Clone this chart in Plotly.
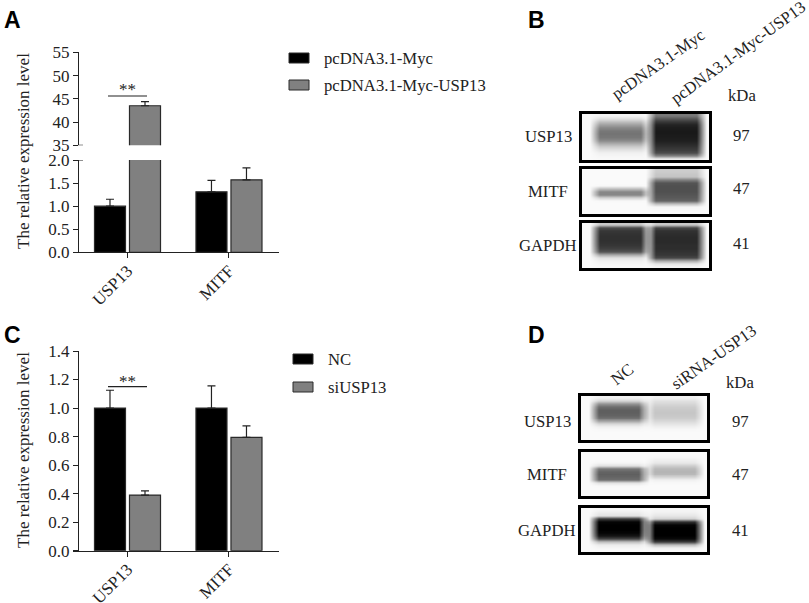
import plotly.graph_objects as go

W, H = 809, 603
SERIF = "Liberation Serif"
SANS = "Liberation Sans"
INK = "#222222"
GRAY = "#808080"

categories = ["USP13", "MITF"]

a_names = ["pcDNA3.1-Myc", "pcDNA3.1-Myc-USP13"]
a_ctrl = [1.0, 1.31]
a_ctrl_err = [0.15, 0.25]
a_treat = [43.5, 1.57]
a_treat_err = [0.9, 0.26]
a_low_ticks = [0.0, 0.5, 1.0, 1.5, 2.0]
a_high_ticks = [35, 40, 45, 50, 55]

c_names = ["NC", "siUSP13"]
c_ctrl = [1.0, 1.0]
c_ctrl_err = [0.125, 0.155]
c_treat = [0.39, 0.795]
c_treat_err = [0.03, 0.08]
c_ticks = [0.0, 0.2, 0.4, 0.6, 0.8, 1.0, 1.2, 1.4]

# Capillary blot lanes: grey level from top to bottom of each box
b_usp13 = ([245, 225, 190, 160, 135, 120, 115, 120, 140, 175, 205, 225, 240, 245, 248],
           [120, 85, 55, 35, 28, 25, 25, 28, 32, 40, 50, 60, 75, 130, 235])
b_mitf = ([250, 250, 250, 250, 250, 248, 190, 135, 135, 210, 248, 250, 250, 250, 250],
          [205, 200, 195, 130, 85, 80, 80, 80, 85, 90, 100, 190, 245, 248, 250])
b_gapdh = ([200, 75, 55, 50, 48, 48, 50, 55, 65, 85, 170, 225, 240, 245, 248],
           [200, 70, 50, 45, 42, 42, 42, 45, 45, 50, 55, 70, 170, 230, 245])
d_usp13 = ([240, 215, 150, 110, 95, 95, 100, 115, 160, 215, 240, 248, 250, 250, 250],
           [240, 225, 215, 205, 200, 198, 200, 205, 215, 228, 240, 248, 250, 250, 250])
d_mitf = ([250, 250, 250, 245, 225, 120, 100, 95, 100, 110, 225, 248, 250, 250, 250],
          [250, 248, 240, 232, 205, 185, 180, 185, 210, 240, 248, 250, 250, 250, 250])
d_gapdh = ([245, 235, 225, 60, 5, 0, 0, 0, 5, 20, 70, 190, 235, 245, 250],
           [245, 240, 230, 210, 50, 5, 0, 0, 0, 0, 10, 60, 190, 240, 250])

b_lanes = ["pcDNA3.1-Myc", "pcDNA3.1-Myc-USP13"]
d_lanes = ["NC", "siRNA-USP13"]
blot_proteins = ["USP13", "MITF", "GAPDH"]
blot_kda = ["97", "47", "41"]


def px(x):
    return x / W


def py(y):
    return 1 - y / H


def dom_x(a, b):
    return [px(a), px(b)]


def dom_y(top, bottom):
    return [py(bottom), py(top)]


fig = go.Figure()
shapes, notes = [], []


def text(x, y, s, size=16.7, font=SERIF, angle=0, anchor="center", bold=False):
    notes.append(dict(
        x=px(x), y=py(y), xref="paper", yref="paper", text=f"<b>{s}</b>" if bold else s,
        showarrow=False, xanchor=anchor, yanchor="middle", textangle=angle,
        font=dict(family=font, size=size, color=INK if not bold else "black"),
    ))


def bars(vals, errs, color, name, xa, ya):
    fig.add_trace(go.Bar(
        x=categories, y=vals, name=name, xaxis=xa, yaxis=ya, showlegend=False,
        marker=dict(color=color, line=dict(color="#2a2a2a", width=1.2)),
        error_y=dict(type="data", symmetric=False, array=errs, arrayminus=[0, 0],
                     color="#222222", thickness=1.2, width=4),
    ))


def y_axis(domain, rng, ticks, xa, fmt):
    return dict(domain=domain, range=rng, tickmode="array", tickvals=ticks, tickformat=fmt,
                ticks="outside", ticklen=5, tickwidth=1.2, tickcolor=INK,
                showline=True, linewidth=1.2, linecolor=INK, showgrid=False, zeroline=False,
                anchor="free", position=px(78), automargin=False,
                tickfont=dict(family=SERIF, size=17, color=INK))


def x_axis(ya, domain=(73, 279)):
    return dict(domain=dom_x(*domain), range=[-0.537, 1.493], anchor=ya, type="category",
                categoryorder="array", categoryarray=categories, automargin=False,
                ticks="outside", ticklen=5, tickwidth=1.2, tickcolor=INK, tickangle=-45,
                ticklabelstandoff=-4,
                showline=True, linewidth=1.2, linecolor=INK, showgrid=False, zeroline=False,
                tickfont=dict(family=SERIF, size=17, color=INK))


# Panel A, lower and upper segments of the broken axis
bars(a_ctrl, a_ctrl_err, "black", a_names[0], "x", "y")
bars(a_treat, a_treat_err, GRAY, a_names[1], "x", "y")
bars(a_ctrl, a_ctrl_err, "black", a_names[0], "x3", "y2")
bars(a_treat, a_treat_err, GRAY, a_names[1], "x3", "y2")
# Panel C
bars(c_ctrl, c_ctrl_err, "black", c_names[0], "x2", "y3")
bars(c_treat, c_treat_err, GRAY, c_names[1], "x2", "y3")

layout_axes = {
    "xaxis": x_axis("y"),
    "yaxis": y_axis(dom_y(160, 252.3), [0, 2], a_low_ticks, "x", ".1f"),
    "xaxis3": dict(domain=dom_x(73, 279), range=[-0.537, 1.493], anchor="y2", type="category",
                   categoryorder="array", categoryarray=categories, visible=False),
    "yaxis2": y_axis(dom_y(52.3, 145.3), [35, 55], a_high_ticks, "x3", "d"),
    "xaxis2": x_axis("y3"),
    "yaxis3": y_axis(dom_y(351, 550.7), [0, 1.4], c_ticks, "x2", ".1f"),
}

# Longer ticks at the axis break
for ya, v in (("y2", 35), ("y", 2)):
    shapes.append(dict(type="line", xref="paper", yref=ya, x0=px(78), x1=px(83), y0=v, y1=v,
                       line=dict(color=INK, width=1.2)))

# Significance marks
for xa, ya, v in (("x", "y2", 45.6), ("x2", "y3", 1.15)):
    shapes.append(dict(type="line", xref="paper", yref=ya, x0=px(108), x1=px(147), y0=v, y1=v,
                       line=dict(color=INK, width=1.2)))
text(128, 90, "**", size=17)
text(128, 381, "**", size=17)


# Legends
def legend(entries, xs, xt, tops):
    for (label, colour), top in zip(entries, tops):
        shapes.append(dict(type="rect", xref="paper", yref="paper", x0=px(xs), x1=px(xs + 20),
                           y0=py(top), y1=py(top + 10), fillcolor=colour,
                           line=dict(color="#2a2a2a", width=1)))
        text(xt, top + 5.5, label, anchor="left")


legend(list(zip(a_names, ["black", GRAY])), 289, 322, [53, 80])
legend(list(zip(c_names, ["black", GRAY])), 293, 326, [354, 382])

# Y axis titles
text(23, 151, "The relative expression level", size=17, angle=-90)
text(23, 450, "The relative expression level", size=17, angle=-90)

# Panel letters
for s, x, y in (("A", 2, 20), ("B", 526, 20), ("C", 2, 335), ("D", 526, 335)):
    text(x, y, s, size=23, font=SANS, anchor="left", bold=True)


# Blots
def blot(idx, profiles, x0, x1, top, bottom):
    bg = 250
    rows = []
    for left, right in zip(*profiles):
        rows.append([bg, bg, (bg + left) / 2] + [left] * 9 + [(bg + left) / 2, (bg + right) / 2]
                    + [right] * 9 + [(bg + right) / 2, bg, bg])
    xa, ya = f"x{idx}", f"y{idx}"
    fig.add_trace(go.Heatmap(
        z=rows, xaxis=xa, yaxis=ya, zmin=0, zmax=255, zsmooth="best", showscale=False,
        colorscale=[[0, "black"], [1, "white"]], hoverinfo="skip",
    ))
    common = dict(showline=True, mirror=True, linewidth=2.6, linecolor="black", automargin=False,
                  ticks="", showticklabels=False, showgrid=False, zeroline=False)
    layout_axes[f"xaxis{idx}"] = dict(domain=dom_x(x0, x1), anchor=ya, range=[-0.5, 24.5], **common)
    layout_axes[f"yaxis{idx}"] = dict(domain=dom_y(top, bottom), anchor=xa, range=[14.5, -0.5], **common)


blot(4, b_usp13, 582, 709, 114, 160)
blot(5, b_mitf, 582, 709, 169, 214)
blot(6, b_gapdh, 582, 709, 223, 268)
blot(7, d_usp13, 581, 707, 396, 440)
blot(8, d_mitf, 581, 707, 452, 496)
blot(9, d_gapdh, 581, 707, 508, 552)

for name, kda, y_name, y_kda in zip(blot_proteins, blot_kda, [137, 191, 246], [135, 188, 244]):
    text(548, y_name, name)
    text(741, y_kda, kda)
for name, kda, y_name in zip(blot_proteins, blot_kda, [421, 474, 530]):
    text(547, y_name, name)
    text(740, y_name, kda)
text(742, 96, "kDa")
text(740, 382, "kDa")
text(658, 65, b_lanes[0], angle=-35)
text(738, 52, b_lanes[1], angle=-36)
text(622, 375, d_lanes[0], angle=-38)
text(713, 357, d_lanes[1], angle=-35)

fig.update_layout(
    width=W, height=H, margin=dict(l=0, r=0, t=0, b=0, autoexpand=False), autosize=False,
    paper_bgcolor="white", plot_bgcolor="rgba(0,0,0,0)",
    barmode="group", bargap=0.31, bargroupgap=0.114, showlegend=False,
    shapes=shapes, annotations=notes, **layout_axes,
)

fig.write_html("out.html", config={"displayModeBar": False},
               post_script="document.body.style.margin='0';")
